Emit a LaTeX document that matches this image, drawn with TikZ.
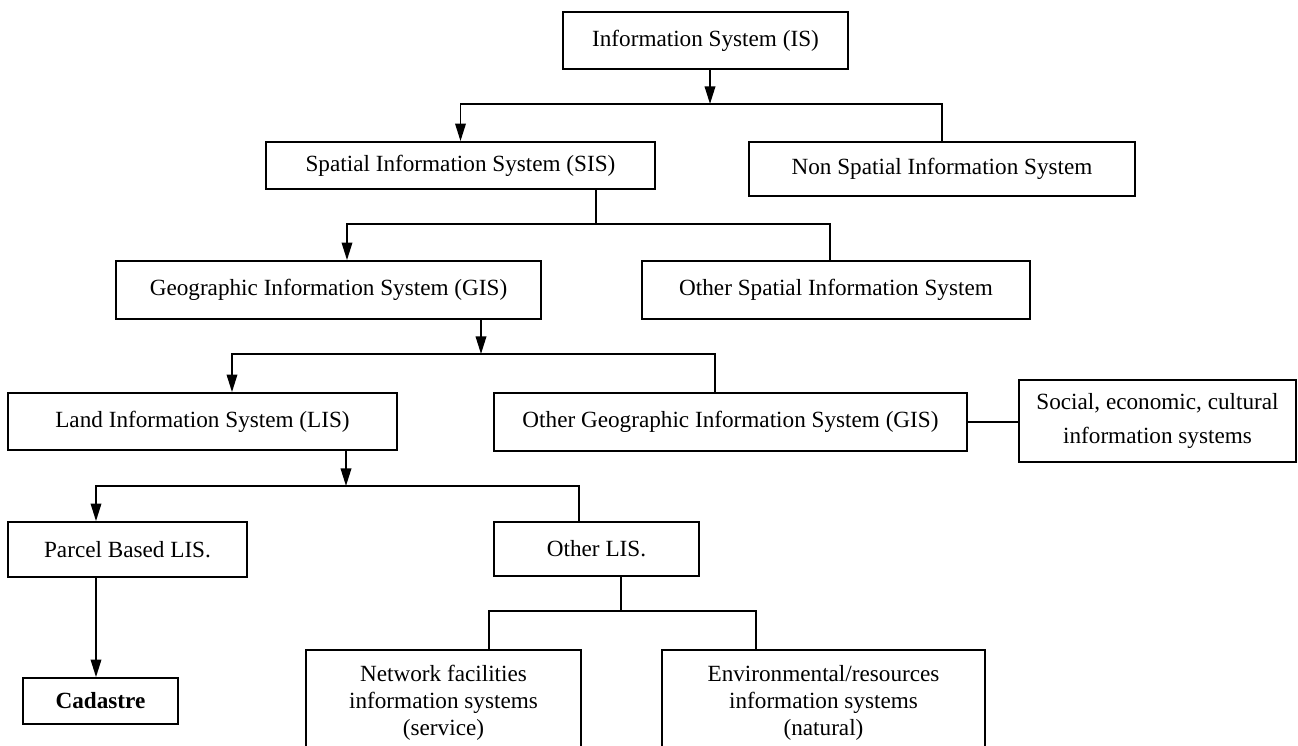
\documentclass[tikz,border=0pt]{standalone}
\usepackage{fontspec}
\setmainfont{Liberation Serif}
\usetikzlibrary{arrows.meta, positioning, calc}
\tikzset{
  box/.style={rectangle, draw=black, line width=1pt, align=center,
    inner sep=2pt, font=\fontsize{13.2pt}{15.4pt}\selectfont},
  arrow/.style={-{Triangle[length=10pt, width=6pt]}, line width=1pt},
  line/.style={line width=1pt}
}

\begin{document}
\begin{tikzpicture}[x=0.02cm, y=-0.02cm]
  \useasboundingbox (0,0) rectangle (1298,746);

  % Top
  \node[box, minimum width=5.70cm, minimum height=1.14cm] (is) at (705.5,40.5) {Information System (IS)};

  % Second row
  \node[box, minimum width=7.78cm, minimum height=0.94cm] (sis) at (460.5,165.5) {Spatial Information System (SIS)};
  \node[box, minimum width=7.72cm, minimum height=1.08cm] (nsis) at (942,169) {Non Spatial Information System};

  % Third row
  \node[box, minimum width=8.50cm, minimum height=1.16cm] (gis) at (328.5,290) {Geographic Information System (GIS)};
  \node[box, minimum width=7.76cm, minimum height=1.16cm] (osis) at (836,290) {Other Spatial Information System};

  % Fourth row
  \node[box, minimum width=7.78cm, minimum height=1.14cm] (lis) at (202.5,421.5) {Land Information System (LIS)};
  \node[box, minimum width=9.46cm, minimum height=1.16cm] (ogis) at (730.5,422) {Other Geographic Information System (GIS)};
  \node[box, minimum width=5.54cm, minimum height=1.64cm,
        font=\fontsize{13.2pt}{19pt}\selectfont] (soc) at (1157.5,421) {Social, economic, cultural\\information systems};

  % Fifth row
  \node[box, minimum width=4.78cm, minimum height=1.10cm] (pbl) at (127.5,549.5) {Parcel Based LIS.};
  \node[box, minimum width=4.10cm, minimum height=1.08cm] (olis) at (596.5,549) {Other LIS.};

  % Bottom row
  \node[box, minimum width=3.10cm, minimum height=0.92cm, font=\fontsize{13.2pt}{15.4pt}\selectfont\bfseries] (cad) at (100.5,701) {Cadastre};
  \node[box, minimum width=5.50cm, minimum height=2.12cm] (net) at (443.5,703) {Network facilities\\information systems\\(service)};
  \node[box, minimum width=6.46cm, minimum height=2.12cm] (env) at (823.5,703) {Environmental/resources\\information systems\\(natural)};

  % Junctions
  \coordinate (b1) at (710,104);
  \coordinate (b2) at (596,224);
  \coordinate (b3) at (481,354);
  \coordinate (b4) at (346,486);
  \coordinate (b5) at (621,611);
  \coordinate (pc) at ([xshift=-0.63cm]pbl.south);

  % IS
  \draw[arrow] (is.south -| b1) -- (b1);
  \draw[arrow] (b1) -| (sis.north);
  \draw[line] (b1) -| (nsis.north);

  % SIS
  \draw[line] (sis.south -| b2) -- (b2);
  \draw[arrow] (b2) -| ([xshift=0.37cm]gis.north);
  \draw[line] (b2) -| ([xshift=-0.12cm]osis.north);

  % GIS
  \draw[arrow] (gis.south -| b3) -- (b3);
  \draw[arrow] (b3) -| ([xshift=0.59cm]lis.north);
  \draw[line] (b3) -| ([xshift=-0.31cm]ogis.north);
  \draw[line] (ogis.east) -- (ogis.east -| soc.west);

  % LIS
  \draw[arrow] (lis.south -| b4) -- (b4);
  \draw[arrow] (b4) -| ([xshift=-0.63cm]pbl.north);
  \draw[line] (b4) -| ([xshift=-0.35cm]olis.north);
  \draw[arrow] (pc) -- (pc |- cad.north);

  % Other LIS
  \draw[line] (olis.south -| b5) -- (b5);
  \draw[line] (b5) -| ([xshift=0.91cm]net.north);
  \draw[line] (b5) -| ([xshift=-1.35cm]env.north);
\end{tikzpicture}
\end{document}
